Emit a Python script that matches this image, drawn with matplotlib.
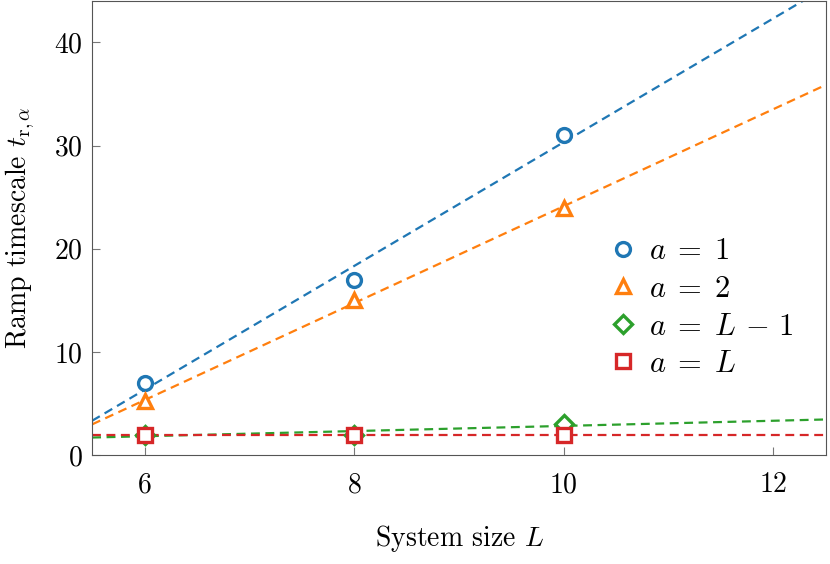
import matplotlib
matplotlib.use("Agg")
import matplotlib.pyplot as plt
import numpy as np

plt.rcParams['font.family'] = 'serif'
plt.rcParams['font.serif'] = ['cmr10']
plt.rcParams['mathtext.fontset'] = 'cm'
plt.rcParams['axes.formatter.use_mathtext'] = True

# system sizes and ramp timescales per observable
L = [6, 8, 10]
t_a1 = [7, 17, 31]
t_a2 = [5.2, 15, 24]
t_aLm1 = [2, 2, 3]
t_aL = [2, 2, 2]

series = [
    (t_a1, 'o', 'tab:blue', r'$a\;=\;1$'),
    (t_a2, '^', 'tab:orange', r'$a\;=\;2$'),
    (t_aLm1, 'D', 'tab:green', r'$a\;=\;L\,-\,1$'),
    (t_aL, 's', 'tab:red', r'$a\;=\;L$'),
]

fig = plt.figure(figsize=(8.3, 5.64), dpi=100)
ax = fig.add_axes([0.111, 0.193, 0.884, 0.805])

xfit = np.linspace(5.5, 12.5, 50)
for y, m, c, lab in series:
    p = np.polyfit(L, y, 1)
    ax.plot(xfit, np.polyval(p, xfit), ls=(0, (4, 2.5)), lw=1.6, color=c, zorder=2)
for y, m, c, lab in series:
    ms = 9 if m == 'D' else 10
    ax.plot(L, y, ls='none', marker=m, ms=ms, mfc='white', mec=c, mew=2.4,
            label=lab, zorder=3)

ax.set_xlim(5.5, 12.5)
ax.set_ylim(0, 44)
ax.set_xticks([6, 8, 10, 12])
ax.set_yticks([0, 10, 20, 30, 40])
ax.tick_params(direction='in', length=6, color='#777777', labelsize=20)
ax.tick_params(axis='x', pad=12)
ax.tick_params(axis='y', pad=7)
for s in ax.spines.values():
    s.set_color('#555555')

ax.set_xlabel(r'System size $L$', fontsize=20, labelpad=18)
ax.set_ylabel(r'Ramp timescale $t_{\mathrm{r},\alpha}$', fontsize=20, labelpad=12)

ax.legend(loc='center left', bbox_to_anchor=(0.711, 0.324), frameon=False,
          borderaxespad=0, borderpad=0, fontsize=22, handletextpad=0.55,
          labelspacing=0.33, handlelength=0.6)

fig.savefig('out.png', dpi=100)
